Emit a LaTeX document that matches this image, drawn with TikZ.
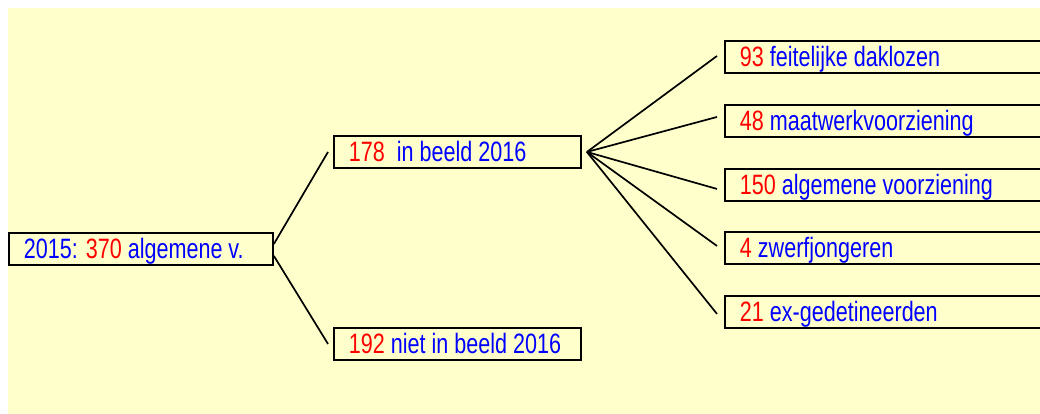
\documentclass[tikz,border=0pt]{standalone}
\usepackage{fontspec}
\setmainfont{Liberation Sans}
\usepackage{graphicx}
\usetikzlibrary{calc}
\definecolor{bgyellow}{RGB}{255,255,204}
\definecolor{numred}{RGB}{255,0,0}
\definecolor{txtblue}{RGB}{0,0,255}
\newcommand{\numr}[1]{\textcolor{numred}{#1}}
\newcommand{\lbl}[1]{\scalebox{0.77}[1]{\fontsize{28}{30}\selectfont\spaceskip=0pt\xspaceskip=0pt\color{txtblue}#1}}
\tikzset{
  box/.style={draw=black, line width=1.9pt, anchor=north west, inner xsep=15pt, inner ysep=0pt,
    minimum height=32pt, text height=23pt, text depth=3pt},
  rootbox/.style={box, minimum width=264pt, text width=234pt},
  midbox/.style={box, minimum width=247pt, text width=217pt},
  leafbox/.style={box, minimum width=330pt, text width=300pt},
  conn/.style={draw=black, line width=1.7pt}
}
\begin{document}
\begin{tikzpicture}[x=1pt, y=-1pt]
\useasboundingbox (0,0) rectangle (1040,414);
\fill[bgyellow] (8,8) rectangle (1040,414);

\node[rootbox] (root) at (8,232) {\lbl{2015: \numr{370} algemene v.}};
\node[midbox] (m1) at (333,135) {\lbl{\numr{178}\ \ in beeld 2016}};
\node[midbox] (m2) at (333,327) {\lbl{\numr{192} niet in beeld 2016}};

\node[leafbox] (r1) at (724,40) {\lbl{\numr{93} feitelijke daklozen}};
\node[leafbox] (r2) at (724,104) {\lbl{\numr{48} maatwerkvoorziening}};
\node[leafbox] (r3) at (724,168) {\lbl{\numr{150} algemene voorziening}};
\node[leafbox] (r4) at (724,231) {\lbl{\numr{4} zwerfjongeren}};
\node[leafbox] (r5) at (724,295) {\lbl{\numr{21} ex-gedetineerden}};

\coordinate (fan) at ($(m1.east)+(5,0)$);

\draw[conn] ($(root.east)+(0,-5)$) -- ($(m1.west)+(-5,0)$);
\draw[conn] ($(root.east)+(0,7)$) -- ($(m2.west)+(-5,0)$);

\draw[conn] (fan) -- ($(r1.west)+(-7,-1)$);
\draw[conn] (fan) -- ($(r2.west)+(-7,-4)$);
\draw[conn] (fan) -- ($(r3.west)+(-7,4)$);
\draw[conn] (fan) -- ($(r4.west)+(-7,-2)$);
\draw[conn] (fan) -- ($(r5.west)+(-7,2)$);
\end{tikzpicture}
\end{document}
